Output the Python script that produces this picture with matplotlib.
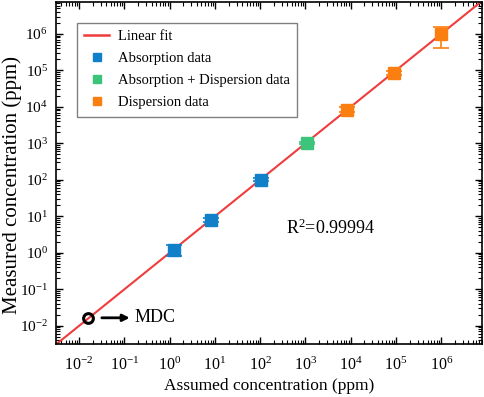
import numpy as np
import matplotlib
matplotlib.use("Agg")
from matplotlib import pyplot as plt
from matplotlib.ticker import LogLocator, NullFormatter, FixedLocator, LogFormatterSciNotation
from matplotlib.lines import Line2D

plt.rcParams['font.family'] = ['Liberation Serif', 'DejaVu Serif']
plt.rcParams['mathtext.fontset'] = 'custom'
plt.rcParams['mathtext.rm'] = 'Liberation Serif'
plt.rcParams['mathtext.it'] = 'Liberation Serif:italic'
plt.rcParams['axes.unicode_minus'] = False

# values
abs_x = [1.26, 8.3, 105]
abs_y = [1.2, 8.0, 100]
abs_err_lo = [0.37, 1.0, 9]
abs_err_hi = [0.4, 1.2, 10]

mix_x = [1100]
mix_y = [1000]
mix_err = [60]

disp_x = [8300, 90000, 1.0e6]
disp_y = [8300, 85000, 1.0e6]
disp_err_lo = [1200, 9000, 5.8e5]
disp_err_hi = [1400, 10000, 5.5e5]

mdc_x = 0.0158
mdc_y = 0.0165

fit_x = [3e-3, 8e6]
fit_y = [3e-3, 8e6]
r2 = 0.99994

decades = [1e-2, 1e-1, 1e0, 1e1, 1e2, 1e3, 1e4, 1e5, 1e6]

c_blue = '#1180c8'
c_green = '#3cc47a'
c_orange = '#fb7f10'
c_red = '#f03c3c'

fig = plt.figure(figsize=(4.84, 3.97), dpi=100)
ax = fig.add_axes([0.116, 0.134, 0.88, 0.861])

ax.plot(fit_x, fit_y, color=c_red, lw=1.5, zorder=2)

ax.errorbar(abs_x, abs_y, yerr=[abs_err_lo, abs_err_hi], fmt='s', color=c_blue,
            ms=8, capsize=6, elinewidth=1.2, capthick=1.2, zorder=3)
ax.errorbar(mix_x, mix_y, yerr=[mix_err, mix_err], fmt='s', color=c_green,
            ms=8, capsize=6, elinewidth=1.2, capthick=1.2, zorder=3)
ax.errorbar(disp_x, disp_y, yerr=[disp_err_lo, disp_err_hi], fmt='s', color=c_orange,
            ms=8, capsize=6, elinewidth=1.2, capthick=1.2, zorder=3)

ax.plot([mdc_x], [mdc_y], 'o', mfc='none', mec='black', mew=2.2, ms=7, zorder=4)
ax.annotate('', xy=(mdc_x * 10**0.98, mdc_y), xytext=(mdc_x * 10**0.24, mdc_y),
            arrowprops=dict(arrowstyle='-|>', color='black', lw=2, mutation_scale=10))
ax.text(mdc_x * 10**1.03, mdc_y, 'MDC', fontsize=13, va='center', ha='left')

ax.text(0.54, 0.322, 'R$^{2}$=%.5f' % r2, transform=ax.transAxes, fontsize=13)

ax.set_xscale('log')
ax.set_yscale('log')
ax.set_xlim(3.1e-3, 8e6)
ax.set_ylim(3.2e-3, 7.5e6)

ax.xaxis.set_major_locator(FixedLocator(decades))
ax.yaxis.set_major_locator(FixedLocator(decades))
ax.xaxis.set_major_formatter(LogFormatterSciNotation())
ax.yaxis.set_major_formatter(LogFormatterSciNotation())
ax.xaxis.set_minor_locator(LogLocator(base=10, subs=np.arange(2, 10), numticks=20))
ax.yaxis.set_minor_locator(LogLocator(base=10, subs=np.arange(2, 10), numticks=20))
ax.xaxis.set_minor_formatter(NullFormatter())
ax.yaxis.set_minor_formatter(NullFormatter())

ax.tick_params(which='both', direction='in', top=True, right=True, labelsize=11.5)
ax.tick_params(which='major', length=5, width=1, pad=5)
ax.tick_params(which='minor', length=3, width=0.8)
ax.tick_params(axis='x', which='major', pad=9)
ax.tick_params(axis='y', which='major', labelsize=11, pad=6)
for s in ax.spines.values():
    s.set_linewidth(1.2)

ax.set_xlabel('Assumed concentration (ppm)', fontsize=12.5, labelpad=3)
ax.set_ylabel('Measured concentration (ppm)', fontsize=15)
ax.yaxis.set_label_coords(-0.104, 0.465)
ax.yaxis.label.set_va('center')

handles = [
    Line2D([], [], color=c_red, lw=1.8),
    Line2D([], [], ls='none', marker='s', color=c_blue, ms=6),
    Line2D([], [], ls='none', marker='s', color=c_green, ms=6),
    Line2D([], [], ls='none', marker='s', color=c_orange, ms=6),
]
labels = ['Linear fit', 'Absorption data', 'Absorption + Dispersion data', 'Dispersion data']
leg = ax.legend(handles, labels, loc='upper left', bbox_to_anchor=(0.049, 0.939), fontsize=10.5,
                frameon=True, fancybox=False, edgecolor='gray', framealpha=1,
                borderaxespad=0, handlelength=1.7, labelspacing=0.6, borderpad=0.5,
                handletextpad=0.6)
leg.get_frame().set_linewidth(1.0)

fig.savefig('out.png', dpi=100)
